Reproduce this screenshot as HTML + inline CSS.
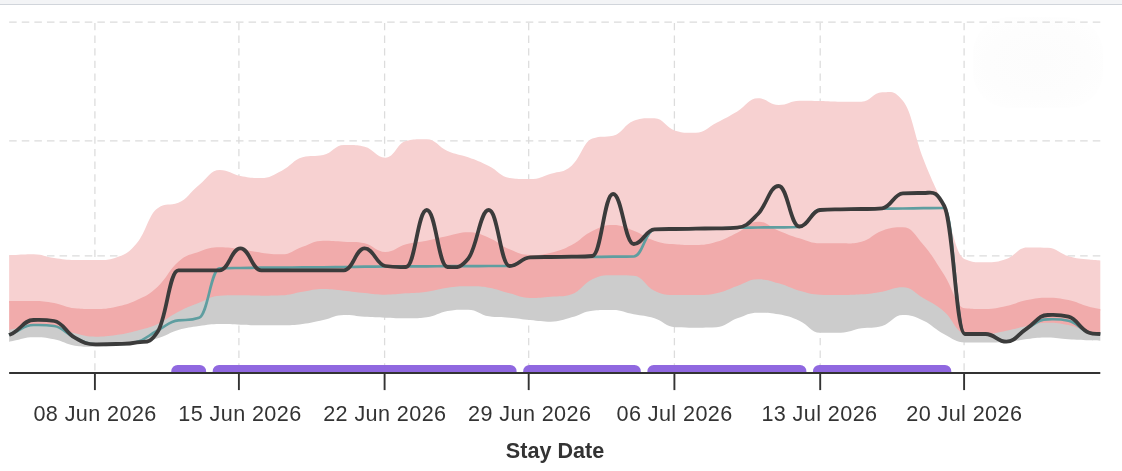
<!DOCTYPE html>
<html lang="en">
<head>
<meta charset="utf-8">
<title>Stay Date chart</title>
<style>
html,body{margin:0;padding:0;background:#fff;}
body{width:1122px;height:471px;overflow:hidden;position:relative;font-family:"Liberation Sans",Arial,sans-serif;}
.topbar{position:absolute;left:0;top:0;width:1122px;height:3.78px;background:#F3F4F6;border-bottom:1.26px solid #D1D5DB;}
.wm{position:absolute;left:973px;top:17px;width:130px;height:91px;border-radius:36px;background:radial-gradient(ellipse at center,#fcfcfc 0%,#fdfdfd 55%,#ffffff 100%);}
svg{position:absolute;left:0;top:0;display:block;will-change:transform;}
</style>
</head>
<body>
<div class="topbar"></div>
<div class="wm"></div>
<svg role="img" aria-label="Stay Date chart" width="1122" height="471" viewBox="0 0 1122 471">
<g stroke="#dcdcdc" stroke-width="1.26" stroke-dasharray="7.56 5.04" fill="none">
<line x1="9.14" y1="22.04" x2="1100.3" y2="22.04"/>
<line x1="9.14" y1="140.8" x2="1100.3" y2="140.8"/>
<line x1="9.14" y1="255.9" x2="1100.3" y2="255.9"/>
</g>
<g stroke="#dcdcdc" stroke-width="1.26" stroke-dasharray="7.3 5.3" fill="none">
<line x1="94.9" y1="23" x2="94.9" y2="373"/>
<line x1="238.9" y1="23" x2="238.9" y2="373"/>
<line x1="384.6" y1="23" x2="384.6" y2="373"/>
<line x1="528.7" y1="23" x2="528.7" y2="373"/>
<line x1="674.4" y1="23" x2="674.4" y2="373"/>
<line x1="820.2" y1="23" x2="820.2" y2="373"/>
<line x1="964.1" y1="23" x2="964.1" y2="373"/>
</g>
<path d="M9.14,255.2C10.73,255.11,11.16,255.07,12.75,255C21.86,254.57,24.34,254.2,33.45,254.2C42.56,254.2,45.04,256.72,54.15,258C63.26,259.28,65.74,260,74.85,260C83.96,260,86.44,260,95.55,260C104.66,260,107.14,260.8,116.25,257.5C125.36,254.2,127.84,253.85,136.95,243C146.06,232.15,148.54,214.49,157.65,208.2C166.76,201.91,169.24,206.32,178.35,202.7C187.46,199.08,189.94,192.19,199.05,185C208.16,177.81,210.64,170,219.75,170C228.86,170,231.34,174.24,240.45,176C249.56,177.76,252.04,178,261.15,178C270.26,178,272.74,175.25,281.85,170.7C290.96,166.15,293.44,159.69,302.55,157.3C311.66,154.91,314.14,156.87,323.25,155C332.36,153.13,334.84,145,343.95,145C353.06,145,355.54,144.46,364.65,146.7C373.76,148.94,376.24,157.7,385.35,157.7C394.46,157.7,396.94,143.24,406.05,141C415.16,138.76,417.64,139.3,426.75,139.3C435.86,139.3,438.34,147.04,447.45,151C456.56,154.96,459.04,154,468.15,157.3C477.26,160.6,479.74,161.45,488.85,166C497.96,170.55,500.44,176.68,509.55,178C518.66,179.32,521.14,179,530.25,179C539.36,179,541.84,176.63,550.95,173.7C560.06,170.77,562.54,173.42,571.65,165.7C580.76,157.98,583.24,141.89,592.35,138.6C601.46,135.31,603.94,137.66,613.05,135.7C622.16,133.74,624.64,123.87,633.75,120.7C642.86,117.53,645.34,118.3,654.45,118.3C663.56,118.3,666.04,128.06,675.15,130.7C684.26,133.34,686.74,132.7,695.85,132.7C704.96,132.7,707.44,127.39,716.55,122.7C725.66,118.01,728.14,116.77,737.25,111.4C746.36,106.03,748.84,98.3,757.95,98.3C767.06,98.3,769.54,105,778.65,105C787.76,105,790.24,100.7,799.35,100.7C808.46,100.7,810.94,100.78,820.05,101C829.16,101.22,831.64,101.7,840.75,101.7C849.86,101.7,852.34,101.7,861.45,101.7C870.56,101.7,873.04,92.3,882.15,92.3C891.26,92.3,893.74,89.58,902.85,100.8C911.96,112.02,914.44,136.03,923.55,159.5C932.66,182.97,935.14,185.54,944.25,207.5C953.36,229.46,955.84,255.47,964.95,259.3C974.06,263.13,976.54,262.2,985.65,262.2C994.76,262.2,997.24,262.23,1006.35,259C1015.46,255.77,1017.94,247.5,1027.05,247.5C1036.16,247.5,1038.64,247.4,1047.75,247.8C1056.86,248.2,1059.34,253.6,1068.45,256.2C1077.56,258.8,1080.04,258.48,1089.15,259.6C1094.06,260.2,1095.39,260.1,1100.3,260.5L1100.3,311C1095.39,309.97,1094.06,309.97,1089.15,308.67C1080.04,306.25,1077.56,303.98,1068.45,302C1059.34,300.02,1056.86,299.67,1047.75,299.67C1038.64,299.67,1036.16,300.17,1027.05,302C1017.94,303.83,1015.46,306.02,1006.35,308C997.24,309.98,994.76,311,985.65,311C976.54,311,974.06,311.21,964.95,310.33C955.84,309.45,953.36,290.93,944.25,277C935.14,263.07,932.66,257.49,923.55,247C914.44,236.51,911.96,229.33,902.85,229.33C893.74,229.33,891.26,229.51,882.15,232.67C873.04,235.82,870.56,241.47,861.45,243.67C852.34,245.87,849.86,245.33,840.75,245.33C831.64,245.33,829.16,245.33,820.05,245.33C810.94,245.33,808.46,243.12,799.35,240.33C790.24,237.55,787.76,236.33,778.65,232.67C769.54,229,767.06,223.67,757.95,223.67C748.84,223.67,746.36,230.24,737.25,234.67C728.14,239.1,725.66,241.09,716.55,243.8C707.44,246.51,704.96,247,695.85,247C686.74,247,684.26,247.21,675.15,246.33C666.04,245.45,663.56,245.67,654.45,242.67C645.34,239.66,642.86,236.11,633.75,232.67C624.64,229.22,622.16,227,613.05,227C603.94,227,601.46,228.6,592.35,233C583.24,237.4,580.76,242.23,571.65,247C562.54,251.77,560.06,252.47,550.95,254.67C541.84,256.87,539.36,257,530.25,257C521.14,257,518.66,255.15,509.55,251.33C500.44,247.52,497.96,243.41,488.85,239.67C479.74,235.93,477.26,234.33,468.15,234.33C459.04,234.33,456.56,236.17,447.45,238C438.34,239.83,435.86,240.83,426.75,242.67C417.64,244.5,415.16,243.84,406.05,246.33C396.94,248.83,394.46,254,385.35,254C376.24,254,373.76,247.46,364.65,245.33C355.54,243.2,353.06,244.22,343.95,243.67C334.84,243.12,332.36,242.67,323.25,242.67C314.14,242.67,311.66,245.66,302.55,248.67C293.44,251.67,290.96,256.33,281.85,256.33C272.74,256.33,270.26,255.77,261.15,254.67C252.04,253.57,249.56,252.51,240.45,251.33C231.34,250.16,228.86,249.33,219.75,249.33C210.64,249.33,208.16,250.51,199.05,253.67C189.94,256.82,187.46,255.97,178.35,263.67C169.24,271.37,166.76,280.23,157.65,288.67C148.54,297.1,146.06,297.6,136.95,302C127.84,306.4,125.36,306.69,116.25,308.67C107.14,310.65,104.66,311,95.55,311C86.44,311,83.96,311.21,74.85,310.33C65.74,309.45,63.26,306.61,54.15,305C45.04,303.39,42.56,303,33.45,303C24.34,303,21.86,303,12.75,303C11.16,303,10.73,303,9.14,303Z" fill="#F7D1D1"/>
<path d="M9.14,301C10.73,301,11.16,301,12.75,301C21.86,301,24.34,301,33.45,301C42.56,301,45.04,301.39,54.15,303C63.26,304.61,65.74,307.45,74.85,308.33C83.96,309.21,86.44,309,95.55,309C104.66,309,107.14,308.65,116.25,306.67C125.36,304.69,127.84,304.4,136.95,300C146.06,295.6,148.54,295.1,157.65,286.67C166.76,278.23,169.24,269.37,178.35,261.67C187.46,253.97,189.94,254.82,199.05,251.67C208.16,248.51,210.64,247.33,219.75,247.33C228.86,247.33,231.34,248.16,240.45,249.33C249.56,250.51,252.04,251.57,261.15,252.67C270.26,253.77,272.74,254.33,281.85,254.33C290.96,254.33,293.44,249.67,302.55,246.67C311.66,243.66,314.14,240.67,323.25,240.67C332.36,240.67,334.84,241.12,343.95,241.67C353.06,242.22,355.54,241.2,364.65,243.33C373.76,245.46,376.24,252,385.35,252C394.46,252,396.94,246.83,406.05,244.33C415.16,241.84,417.64,242.5,426.75,240.67C435.86,238.83,438.34,237.83,447.45,236C456.56,234.17,459.04,232.33,468.15,232.33C477.26,232.33,479.74,233.93,488.85,237.67C497.96,241.41,500.44,245.52,509.55,249.33C518.66,253.15,521.14,255,530.25,255C539.36,255,541.84,254.87,550.95,252.67C560.06,250.47,562.54,249.77,571.65,245C580.76,240.23,583.24,235.4,592.35,231C601.46,226.6,603.94,225,613.05,225C622.16,225,624.64,227.22,633.75,230.67C642.86,234.11,645.34,237.66,654.45,240.67C663.56,243.67,666.04,243.45,675.15,244.33C684.26,245.21,686.74,245,695.85,245C704.96,245,707.44,244.51,716.55,241.8C725.66,239.09,728.14,237.1,737.25,232.67C746.36,228.24,748.84,221.67,757.95,221.67C767.06,221.67,769.54,227,778.65,230.67C787.76,234.33,790.24,235.55,799.35,238.33C808.46,241.12,810.94,243.33,820.05,243.33C829.16,243.33,831.64,243.33,840.75,243.33C849.86,243.33,852.34,243.87,861.45,241.67C870.56,239.47,873.04,233.82,882.15,230.67C891.26,227.51,893.74,227.33,902.85,227.33C911.96,227.33,914.44,234.51,923.55,245C932.66,255.49,935.14,261.07,944.25,275C953.36,288.93,955.84,307.45,964.95,308.33C974.06,309.21,976.54,309,985.65,309C994.76,309,997.24,307.98,1006.35,306C1015.46,304.02,1017.94,301.83,1027.05,300C1036.16,298.17,1038.64,297.67,1047.75,297.67C1056.86,297.67,1059.34,298.02,1068.45,300C1077.56,301.98,1080.04,304.25,1089.15,306.67C1094.06,307.97,1095.39,307.97,1100.3,309L1100.3,335.33C1095.39,334.6,1094.06,334.82,1089.15,333.67C1080.04,331.52,1077.56,328.98,1068.45,327C1059.34,325.02,1056.86,324.67,1047.75,324.67C1038.64,324.67,1036.16,326.24,1027.05,328C1017.94,329.76,1015.46,330.91,1006.35,332.67C997.24,334.43,994.76,336,985.65,336C976.54,336,974.06,336.21,964.95,335.33C955.84,334.45,953.36,321.37,944.25,313.67C935.14,305.97,932.66,305.69,923.55,300.33C914.44,294.98,911.96,289.33,902.85,289.33C893.74,289.33,891.26,292.13,882.15,293.67C873.04,295.21,870.56,295.6,861.45,296.33C852.34,297.07,849.86,297,840.75,297C831.64,297,829.16,297.11,820.05,296.67C810.94,296.23,808.46,295.16,799.35,292.67C790.24,290.17,787.76,287.83,778.65,285.33C769.54,282.84,767.06,281.33,757.95,281.33C748.84,281.33,746.36,284.92,737.25,288C728.14,291.08,725.66,293.35,716.55,295.33C707.44,297.31,704.96,297,695.85,297C686.74,297,684.26,297,675.15,297C666.04,297,663.56,296.92,654.45,292.67C645.34,288.41,642.86,278.11,633.75,277.67C624.64,277.23,622.16,277.33,613.05,277.33C603.94,277.33,601.46,277.15,592.35,281.33C583.24,285.51,580.76,293.32,571.65,296.33C562.54,299.35,560.06,298.03,550.95,298.67C541.84,299.3,539.36,300,530.25,300C521.14,300,518.66,297.61,509.55,295.33C500.44,293.06,497.96,291.21,488.85,289.67C479.74,288.13,477.26,288.33,468.15,288.33C459.04,288.33,456.56,288.49,447.45,289.67C438.34,290.84,435.86,292.42,426.75,293.67C417.64,294.91,415.16,294.67,406.05,295.33C396.94,295.99,394.46,296.67,385.35,296.67C376.24,296.67,373.76,295.88,364.65,295C355.54,294.12,353.06,293.55,343.95,292.67C334.84,291.79,332.36,291,323.25,291C314.14,291,311.66,292.27,302.55,293.67C293.44,295.06,290.96,296.89,281.85,297.33C272.74,297.77,270.26,297.67,261.15,297.67C252.04,297.67,249.56,297.33,240.45,297.33C231.34,297.33,228.86,297.23,219.75,297.67C210.64,298.11,208.16,301.15,199.05,304.67C189.94,308.19,187.46,308.97,178.35,313.67C169.24,318.36,166.76,321.82,157.65,326C148.54,330.18,146.06,330.25,136.95,332.67C127.84,335.09,125.36,335.68,116.25,337C107.14,338.32,104.66,338.67,95.55,338.67C86.44,338.67,83.96,337.68,74.85,335.33C65.74,332.99,63.26,330.05,54.15,328C45.04,325.95,42.56,326,33.45,326C24.34,326,21.86,329.32,12.75,331.33C11.16,331.68,10.73,331.71,9.14,332Z" fill="#F1ABAB"/>
<path d="M9.14,330C10.73,329.71,11.16,329.68,12.75,329.33C21.86,327.32,24.34,324,33.45,324C42.56,324,45.04,323.95,54.15,326C63.26,328.05,65.74,330.99,74.85,333.33C83.96,335.68,86.44,336.67,95.55,336.67C104.66,336.67,107.14,336.32,116.25,335C125.36,333.68,127.84,333.09,136.95,330.67C146.06,328.25,148.54,328.18,157.65,324C166.76,319.82,169.24,316.36,178.35,311.67C187.46,306.97,189.94,306.19,199.05,302.67C208.16,299.15,210.64,296.11,219.75,295.67C228.86,295.23,231.34,295.33,240.45,295.33C249.56,295.33,252.04,295.67,261.15,295.67C270.26,295.67,272.74,295.77,281.85,295.33C290.96,294.89,293.44,293.06,302.55,291.67C311.66,290.27,314.14,289,323.25,289C332.36,289,334.84,289.79,343.95,290.67C353.06,291.55,355.54,292.12,364.65,293C373.76,293.88,376.24,294.67,385.35,294.67C394.46,294.67,396.94,293.99,406.05,293.33C415.16,292.67,417.64,292.91,426.75,291.67C435.86,290.42,438.34,288.84,447.45,287.67C456.56,286.49,459.04,286.33,468.15,286.33C477.26,286.33,479.74,286.13,488.85,287.67C497.96,289.21,500.44,291.06,509.55,293.33C518.66,295.61,521.14,298,530.25,298C539.36,298,541.84,297.3,550.95,296.67C560.06,296.03,562.54,297.35,571.65,294.33C580.76,291.32,583.24,283.51,592.35,279.33C601.46,275.15,603.94,275.33,613.05,275.33C622.16,275.33,624.64,275.23,633.75,275.67C642.86,276.11,645.34,286.41,654.45,290.67C663.56,294.92,666.04,295,675.15,295C684.26,295,686.74,295,695.85,295C704.96,295,707.44,295.31,716.55,293.33C725.66,291.35,728.14,289.08,737.25,286C746.36,282.92,748.84,279.33,757.95,279.33C767.06,279.33,769.54,280.84,778.65,283.33C787.76,285.83,790.24,288.17,799.35,290.67C808.46,293.16,810.94,294.23,820.05,294.67C829.16,295.11,831.64,295,840.75,295C849.86,295,852.34,295.07,861.45,294.33C870.56,293.6,873.04,293.21,882.15,291.67C891.26,290.13,893.74,287.33,902.85,287.33C911.96,287.33,914.44,292.98,923.55,298.33C932.66,303.69,935.14,303.97,944.25,311.67C953.36,319.37,955.84,332.45,964.95,333.33C974.06,334.21,976.54,334,985.65,334C994.76,334,997.24,332.43,1006.35,330.67C1015.46,328.91,1017.94,327.76,1027.05,326C1036.16,324.24,1038.64,322.67,1047.75,322.67C1056.86,322.67,1059.34,323.02,1068.45,325C1077.56,326.98,1080.04,329.52,1089.15,331.67C1094.06,332.82,1095.39,332.6,1100.3,333.33L1100.3,340.7C1095.39,340.52,1094.06,340.52,1089.15,340.3C1080.04,339.89,1077.56,339.84,1068.45,339.2C1059.34,338.56,1056.86,337.4,1047.75,337.4C1038.64,337.4,1036.16,337.89,1027.05,338.9C1017.94,339.91,1015.46,341.47,1006.35,342C997.24,342.53,994.76,342.4,985.65,342.4C976.54,342.4,974.06,342.4,964.95,342.4C955.84,342.4,953.36,339.11,944.25,334.33C935.14,329.55,932.66,324.92,923.55,320.67C914.44,316.41,911.96,315,902.85,315C893.74,315,891.26,323.25,882.15,326C873.04,328.75,870.56,326.96,861.45,328.33C852.34,329.71,849.86,332.67,840.75,332.67C831.64,332.67,829.16,332.67,820.05,332.67C810.94,332.67,808.46,324.7,799.35,320.67C790.24,316.63,787.76,316.09,778.65,314.33C769.54,312.57,767.06,312.67,757.95,312.67C748.84,312.67,746.36,315.11,737.25,318.33C728.14,321.56,725.66,326.89,716.55,327.33C707.44,327.77,704.96,327.67,695.85,327.67C686.74,327.67,684.26,327.77,675.15,327.33C666.04,326.89,663.56,321.19,654.45,318.33C645.34,315.47,642.86,316.17,633.75,314.33C624.64,312.5,622.16,310,613.05,310C603.94,310,601.46,309.79,592.35,310.67C583.24,311.55,580.76,314.91,571.65,317.33C562.54,319.75,560.06,321.67,550.95,321.67C541.84,321.67,539.36,320.88,530.25,320C521.14,319.12,518.66,318.4,509.55,317.67C500.44,316.93,497.96,317.93,488.85,316.33C479.74,314.73,477.26,309.67,468.15,309.67C459.04,309.67,456.56,309.31,447.45,311C438.34,312.69,435.86,316.01,426.75,317.33C417.64,318.65,415.16,318.33,406.05,318.33C396.94,318.33,394.46,318.03,385.35,317.67C376.24,317.3,373.76,317.25,364.65,316.67C355.54,316.08,353.06,315,343.95,315C334.84,315,332.36,318.02,323.25,320C314.14,321.98,311.66,322.83,302.55,324C293.44,325.17,290.96,325.33,281.85,325.33C272.74,325.33,270.26,325.33,261.15,325.33C252.04,325.33,249.56,324.96,240.45,324.67C231.34,324.37,228.86,324,219.75,324C210.64,324,208.16,324.68,199.05,326C189.94,327.32,187.46,327.29,178.35,330C169.24,332.71,166.76,335.55,157.65,338.33C148.54,341.12,146.06,341.2,136.95,342.67C127.84,344.13,125.36,344.12,116.25,345C107.14,345.88,104.66,346.67,95.55,346.67C86.44,346.67,83.96,346.99,74.85,345.67C65.74,344.35,63.26,341.17,54.15,339.33C45.04,337.5,42.56,337.33,33.45,337.33C24.34,337.33,21.86,339.35,12.75,341C11.16,341.29,10.73,341.37,9.14,341.67Z" fill="#CCCCCC"/>
<path d="M9.14,335C10.73,334.25,11.16,333.99,12.75,333.3C21.86,329.33,24.34,325,33.45,325C42.56,325,45.04,324.68,54.15,326C63.26,327.32,65.74,333.67,74.85,337.7C83.96,341.73,86.44,344.3,95.55,344.3C104.66,344.3,107.14,344.35,116.25,344C125.36,343.65,127.84,344.62,136.95,342C146.06,339.38,148.54,335.27,157.65,330.5C166.76,325.73,169.24,321.08,178.35,320.3C187.46,319.52,189.94,321.01,199.05,317.8C208.16,314.59,210.64,268.7,219.75,268.3C228.86,267.9,231.34,268,240.45,268C249.56,268,252.04,267.7,261.15,267.7C270.26,267.7,272.74,267.7,281.85,267.7C290.96,267.7,293.44,267.3,302.55,267.3C311.66,267.3,314.14,267.3,323.25,267.3C332.36,267.3,334.84,267.13,343.95,267C353.06,266.87,355.54,266.81,364.65,266.7C373.76,266.59,376.24,266.57,385.35,266.5C394.46,266.43,396.94,266.44,406.05,266.4C415.16,266.36,417.64,266.34,426.75,266.3C435.86,266.26,438.34,266.24,447.45,266.2C456.56,266.16,459.04,266.14,468.15,266.1C477.26,266.06,479.74,266,488.85,266C497.96,266,500.44,266,509.55,266C518.66,266,521.14,257.43,530.25,257.3C539.36,257.17,541.84,257.2,550.95,257.2C560.06,257.2,562.54,257.07,571.65,257C580.76,256.93,583.24,256.97,592.35,256.9C601.46,256.83,603.94,256.7,613.05,256.7C622.16,256.7,624.64,256.76,633.75,256.5C642.86,256.24,645.34,229.7,654.45,229.3C663.56,228.9,666.04,229.01,675.15,229C684.26,228.99,686.74,228.85,695.85,228.7C704.96,228.55,707.44,228.52,716.55,228.3C725.66,228.08,728.14,227.88,737.25,227.7C746.36,227.52,748.84,227.59,757.95,227.5C767.06,227.41,769.54,227.31,778.65,227.3C787.76,227.29,790.24,227.4,799.35,227C808.46,226.6,810.94,209.76,820.05,209.5C829.16,209.24,831.64,209.31,840.75,209.3C849.86,209.29,852.34,209.13,861.45,209C870.56,208.87,873.04,208.81,882.15,208.7C891.26,208.59,893.74,208.61,902.85,208.5C911.96,208.39,914.44,208.31,923.55,208.2C932.66,208.09,935.14,208,944.25,208C953.36,208,955.84,334,964.95,334C974.06,334,976.54,334,985.65,334C994.76,334,997.24,341.7,1006.35,341.7C1015.46,341.7,1017.94,333.23,1027.05,328.3C1036.16,323.37,1038.64,319.3,1047.75,319.3C1056.86,319.3,1059.34,318.85,1068.45,320.7C1077.56,322.55,1080.04,329.68,1089.15,332.7C1094.06,334.33,1095.39,333.46,1100.3,334" fill="none" stroke="#5F9EA0" stroke-width="2.7" stroke-linejoin="round"/>
<path d="M9.14,335C10.73,334.25,11.16,334.18,12.75,333.3C21.86,328.23,24.34,320,33.45,320C42.56,320,45.04,319.68,54.15,321C63.26,322.32,65.74,332.57,74.85,337.7C83.96,342.83,86.44,344.3,95.55,344.3C104.66,344.3,107.14,344.32,116.25,344C125.36,343.68,127.84,344.24,136.95,342.3C146.06,340.36,148.54,345.56,157.65,331.7C166.76,317.84,169.24,270.3,178.35,270.3C187.46,270.3,189.94,270.3,199.05,270.3C208.16,270.3,210.64,270.3,219.75,270.3C228.86,270.3,231.34,248.3,240.45,248.3C249.56,248.3,252.04,270.3,261.15,270.3C270.26,270.3,272.74,270.3,281.85,270.3C290.96,270.3,293.44,270.3,302.55,270.3C311.66,270.3,314.14,270.3,323.25,270.3C332.36,270.3,334.84,270.3,343.95,270.3C353.06,270.3,355.54,248.3,364.65,248.3C373.76,248.3,376.24,264.68,385.35,266C394.46,267.32,396.94,267,406.05,267C415.16,267,417.64,210,426.75,210C435.86,210,438.34,267,447.45,267C456.56,267,459.04,269.66,468.15,258.7C477.26,247.74,479.74,210,488.85,210C497.96,210,500.44,266,509.55,266C518.66,266,521.14,257.7,530.25,257.3C539.36,256.9,541.84,257.03,550.95,257C560.06,256.97,562.54,256.71,571.65,256.7C580.76,256.69,583.24,256.92,592.35,256C601.46,255.08,603.94,194,613.05,194C622.16,194,624.64,244,633.75,244C642.86,244,645.34,229.7,654.45,229.3C663.56,228.9,666.04,229.02,675.15,229C684.26,228.98,686.74,228.85,695.85,228.7C704.96,228.55,707.44,228.36,716.55,228.3C725.66,228.24,728.14,228.49,737.25,227.7C746.36,226.91,748.84,223.17,757.95,214C767.06,204.83,769.54,186,778.65,186C787.76,186,790.24,226.5,799.35,226.5C808.46,226.5,810.94,210.92,820.05,210C829.16,209.08,831.64,209.35,840.75,209.3C849.86,209.25,852.34,209.06,861.45,209C870.56,208.94,873.04,209.22,882.15,208.3C891.26,207.38,893.74,193.7,902.85,193.3C911.96,192.9,914.44,193,923.55,193C932.66,193,935.14,188.84,944.25,206C953.36,223.16,955.84,334,964.95,334C974.06,334,976.54,334,985.65,334C994.76,334,997.24,341.7,1006.35,341.7C1015.46,341.7,1017.94,334.17,1027.05,328.3C1036.16,322.43,1038.64,315,1047.75,315C1056.86,315,1059.34,314.46,1068.45,316.7C1077.56,318.94,1080.04,329.62,1089.15,332.7C1094.06,334.36,1095.39,333.56,1100.3,334" fill="none" stroke="#3b3b3b" stroke-width="3.78" stroke-linejoin="round" stroke-linecap="butt"/>
<g fill="#9068E0">
<path d="M171.3,373V371.3A6.3,6.3,0,0,1,177.6,365H199.8A6.3,6.3,0,0,1,206.1,371.3V373Z"/>
<path d="M212.7,373V371.3A6.3,6.3,0,0,1,219,365H510.3A6.3,6.3,0,0,1,516.6,371.3V373Z"/>
<path d="M523.2,373V371.3A6.3,6.3,0,0,1,529.5,365H634.5A6.3,6.3,0,0,1,640.8,371.3V373Z"/>
<path d="M647.4,373V371.3A6.3,6.3,0,0,1,653.7,365H800.1A6.3,6.3,0,0,1,806.4,371.3V373Z"/>
<path d="M813,373V371.3A6.3,6.3,0,0,1,819.3,365H945A6.3,6.3,0,0,1,951.3,371.3V373Z"/>
</g>
<g stroke="#333" stroke-width="1.9" fill="none">
<line x1="9.14" y1="373" x2="1100.3" y2="373"/>
<line x1="94.9" y1="373" x2="94.9" y2="390.1"/>
<line x1="238.9" y1="373" x2="238.9" y2="390.1"/>
<line x1="384.6" y1="373" x2="384.6" y2="390.1"/>
<line x1="528.7" y1="373" x2="528.7" y2="390.1"/>
<line x1="674.4" y1="373" x2="674.4" y2="390.1"/>
<line x1="820.2" y1="373" x2="820.2" y2="390.1"/>
<line x1="964.1" y1="373" x2="964.1" y2="390.1"/>
</g>
<g font-family="'Liberation Sans', Arial, sans-serif" font-size="21.6" fill="#333" text-anchor="middle" letter-spacing="0.4">
<text x="95.1" y="421">08 Jun 2026</text>
<text x="239.97" y="421">15 Jun 2026</text>
<text x="384.84" y="421">22 Jun 2026</text>
<text x="529.71" y="421">29 Jun 2026</text>
<text x="674.58" y="421">06 Jul 2026</text>
<text x="819.45" y="421">13 Jul 2026</text>
<text x="964.32" y="421">20 Jul 2026</text>
</g>
<text x="555" y="457.5" font-family="'Liberation Sans', Arial, sans-serif" font-size="21.6" font-weight="700" fill="#333" text-anchor="middle" letter-spacing="0">Stay Date</text>
</svg>
</body>
</html>
